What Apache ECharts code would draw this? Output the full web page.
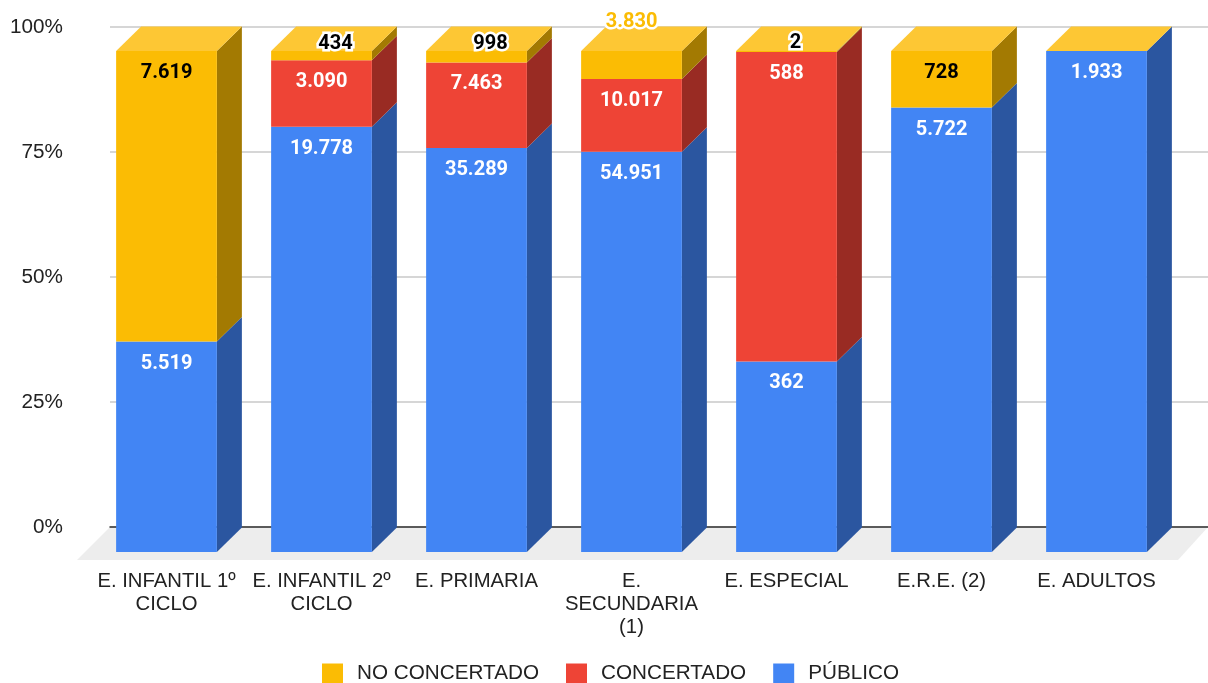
<!DOCTYPE html>
<html>
<head>
<meta charset="utf-8">
<title>Alumnado por enseñanza</title>
<script src="https://cdn.jsdelivr.net/npm/echarts@6/dist/echarts.min.js"></script>
<style>
	html, body { margin: 0; padding: 0; background: #fff; }
	#main { width: 1208px; height: 683px; }
</style>
</head>
<body>
<div id="main"></div>
<script type="text/javascript">
	var categories = ['E. INFANTIL 1º\nCICLO', 'E. INFANTIL 2º\nCICLO', 'E. PRIMARIA', 'E.\nSECUNDARIA\n(1)', 'E. ESPECIAL', 'E.R.E. (2)', 'E. ADULTOS'];
	var publico = [5519, 19778, 35289, 54951, 362, 5722, 1933];
	var concertado = [0, 3090, 7463, 10017, 588, 0, 0];
	var noConcertado = [7619, 434, 998, 3830, 2, 728, 0];
	var legendNames = ['NO CONCERTADO', 'CONCERTADO', 'PÚBLICO'];

	// labels that do not fit in their segment get moved by hand: [dx, dy from the normal spot, fill]
	var movedLabels = {
		'2-1': [14, -29, '#000'],
		'2-2': [14, -29, '#000'],
		'2-3': [0, -51, '#fbbc04'],
		'2-4': [9, -30, '#000']
	};

	var DEPTH_X = 25, DEPTH_Y = 24.5, BAR_RATIO = 0.65;
	var FONT = '"Liberation Sans", Arial, sans-serif';

	function fmt(n) {
		return String(n).replace(/\B(?=(\d{3})+$)/g, '.');
	}

	function rows(idx) {
		// stacked share of each school type, in percent
		return categories.map(function (c, i) {
			var total = publico[i] + concertado[i] + noConcertado[i];
			var lo = idx > 0 ? publico[i] : 0;
			if (idx > 1) lo += concertado[i];
			var v = [publico, concertado, noConcertado][idx][i];
			return [i, lo / total * 100, (lo + v) / total * 100, v];
		});
	}

	function makeRender(idx, front, side, labelFill) {
		return function (params, api) {
			var i = api.value(0);
			var raw = api.value(3);
			var bottom = api.coord([i, api.value(1)]);
			var top = api.coord([i, api.value(2)]);
			var w = api.size([1, 0])[0] * BAR_RATIO;
			var x0 = bottom[0] - w / 2, x1 = x0 + w;
			var kids = [];
			if (raw > 0) {
				kids.push({
					type: 'polygon',
					shape: { points: [[x1, top[1]], [x1 + DEPTH_X, top[1] - DEPTH_Y], [x1 + DEPTH_X, bottom[1] - DEPTH_Y], [x1, bottom[1]]] },
					style: { fill: side }
				});
				kids.push({
					type: 'rect',
					shape: { x: x0, y: top[1], width: w, height: bottom[1] - top[1] },
					style: { fill: front }
				});
			}
			if (idx === 2) {
				// the roof always takes the colour of the last series, also when its value is 0
				kids.push({
					type: 'polygon',
					shape: { points: [[x0, top[1]], [x0 + DEPTH_X, top[1] - DEPTH_Y], [x1 + DEPTH_X, top[1] - DEPTH_Y], [x1, top[1]]] },
					style: { fill: '#fdc734' }
				});
			}
			if (raw > 0) {
				var moved = movedLabels[idx + '-' + i];
				kids.push({
					type: 'text',
					z2: 50,
					style: {
						text: fmt(raw),
						x: bottom[0] + (moved ? moved[0] : 0),
						y: top[1] + 22 + (moved ? moved[1] : 0),
						align: 'center',
						verticalAlign: 'middle',
						font: 'bold 20px Roboto, sans-serif',
						fill: moved ? moved[2] : labelFill,
						stroke: moved ? '#fff' : null,
						lineWidth: moved ? 5 : 0
					}
				});
			}
			return { type: 'group', children: kids };
		};
	}

	function series(idx, name, front, side, labelFill) {
		return {
			name: name,
			type: 'custom',
			xAxisIndex: 1,
			yAxisIndex: 1,
			z: 5 + idx,
			clip: false,
			itemStyle: { color: front },
			encode: { x: 0, y: [1, 2] },
			data: rows(idx),
			renderItem: makeRender(idx, front, side, labelFill)
		};
	}

	var chart = echarts.init(document.getElementById('main'));
	var option = {
		animation: false,
		backgroundColor: '#fff',
		// grid 0 is the back wall, grid 1 the front plane of the bars
		grid: [
			{ left: 110, right: 0, top: 27, height: 500 },
			{ left: 89, width: 1085, top: 51, height: 501 }
		],
		graphic: [{
			type: 'polygon',
			z: -1,
			shape: { points: [[77, 560], [110, 527], [1208, 527], [1178, 560]] },
			style: { fill: '#ededed' }
		}],
		legend: {
			left: 322,
			top: 663,
			padding: 0,
			itemWidth: 21,
			itemHeight: 20,
			itemGap: 27,
			icon: 'rect',
			data: legendNames,
			textStyle: { fontFamily: FONT, fontSize: 20.7, color: '#222', padding: [3, 0, 0, 9] }
		},
		xAxis: [
			{
				gridIndex: 0,
				type: 'value',
				min: 0,
				max: 1,
				axisLine: { show: true, onZero: true, lineStyle: { color: '#333', width: 1.5 } },
				axisTick: { show: false },
				axisLabel: { show: false },
				splitLine: { show: false }
			},
			{
				gridIndex: 1,
				type: 'category',
				data: categories,
				axisLine: { show: false },
				axisTick: { show: false },
				axisLabel: {
					interval: 0,
					margin: 18,
					lineHeight: 23,
					fontFamily: FONT,
					fontSize: 20.3,
					color: '#222'
				}
			}
		],
		yAxis: [
			{
				gridIndex: 0,
				type: 'value',
				min: 0,
				max: 100,
				interval: 25,
				axisLine: { show: false },
				axisTick: { show: false },
				axisLabel: { formatter: '{value}%', margin: 47, padding: [2, 0, 0, 0], fontFamily: FONT, fontSize: 20.7, color: '#222' },
				splitLine: { lineStyle: { color: '#c8c8c8', width: 1.5 } }
			},
			{
				gridIndex: 1,
				type: 'value',
				min: 0,
				max: 100,
				show: false
			}
		],
		series: [
			series(0, 'PÚBLICO', '#4285f4', '#2b56a0', '#fff'),
			series(1, 'CONCERTADO', '#ee4436', '#992b23', '#fff'),
			series(2, 'NO CONCERTADO', '#fbbc04', '#a37a02', '#000')
		]
	};
	chart.setOption(option);
</script>
</body>
</html>
